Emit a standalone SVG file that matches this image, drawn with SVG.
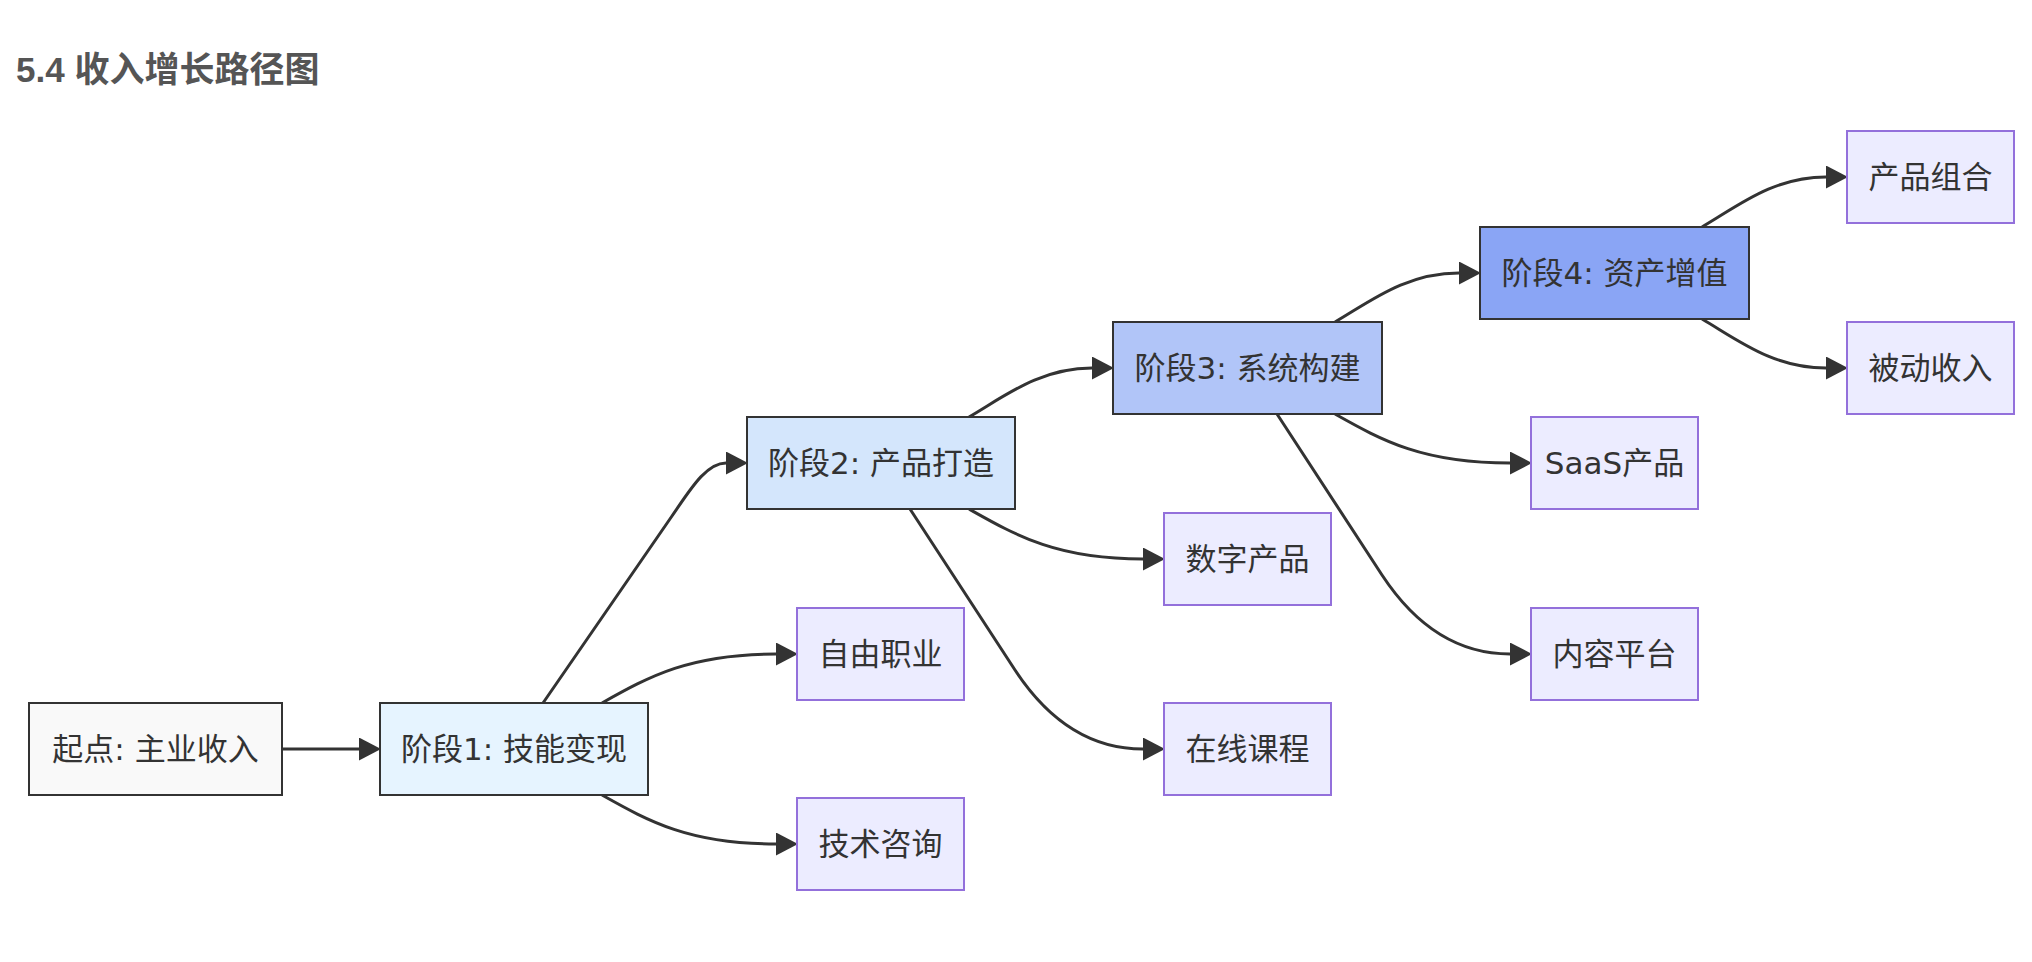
<svg xmlns="http://www.w3.org/2000/svg" width="2032" height="962" viewBox="0 0 2032 962">
<style>
  .title { font-family: "Liberation Sans", "Noto Sans CJK SC", sans-serif; font-size: 35px; font-weight: bold; fill: #555555; }
  .lbl { font-family: "DejaVu Sans", "Noto Sans CJK SC", sans-serif; font-size: 31px; fill: #333333; text-anchor: middle; }
  .start { fill: #f9f9f9; stroke: #333333; stroke-width: 2; }
  .s1 { fill: #e6f4ff; stroke: #333333; stroke-width: 2; }
  .s2 { fill: #d4e6fc; stroke: #333333; stroke-width: 2; }
  .s3 { fill: #b1c5f8; stroke: #333333; stroke-width: 2; }
  .s4 { fill: #8aa5f5; stroke: #333333; stroke-width: 2; }
  .leaf { fill: #ececff; stroke: #9370db; stroke-width: 2; }
  .edge { fill: none; stroke: #333333; stroke-width: 3; }
</style>
<defs>
  <marker id="arrow" markerUnits="userSpaceOnUse" markerWidth="24" markerHeight="24" refX="0" refY="11.5" orient="auto" viewBox="0 0 24 24">
    <path d="M0,0 L22,11.5 L0,23 z" fill="#333333"/>
  </marker>
</defs>
<rect width="2032" height="962" fill="#ffffff"/>
<text class="title" x="16" y="82">5.4 收入增长路径图</text>

<g id="connectors">
  <path class="edge" marker-end="url(#arrow)" d="M282,749 L359,749"/>
  <path class="edge" marker-end="url(#arrow)" d="M543,703 L672,516 C690,490 706,463 726,463"/>
  <path class="edge" marker-end="url(#arrow)" d="M602,703 C650,676 690,654 776,654"/>
  <path class="edge" marker-end="url(#arrow)" d="M602,795 C650,822 690,844 776,844"/>
  <path class="edge" marker-end="url(#arrow)" d="M969,417 C1005,396 1040,368 1092,368"/>
  <path class="edge" marker-end="url(#arrow)" d="M969,509 C1017,536 1057,559 1143,559"/>
  <path class="edge" marker-end="url(#arrow)" d="M910,509 L1015,670 C1040,708 1080,749 1143,749"/>
  <path class="edge" marker-end="url(#arrow)" d="M1335,322 C1371,301 1406,273 1459,273"/>
  <path class="edge" marker-end="url(#arrow)" d="M1335,414 C1383,441 1423,463 1510,463"/>
  <path class="edge" marker-end="url(#arrow)" d="M1277,414 L1382,575 C1407,613 1447,654 1510,654"/>
  <path class="edge" marker-end="url(#arrow)" d="M1702,227 C1738,206 1773,177 1826,177"/>
  <path class="edge" marker-end="url(#arrow)" d="M1702,319 C1738,340 1773,368 1826,368"/>
</g>

<g id="start">
  <rect class="start" x="29" y="703" width="253" height="92"/>
  <text class="lbl" x="155.5" y="760">起点: 主业收入</text>
</g>
<g id="stage1">
  <rect class="s1" x="380" y="703" width="268" height="92"/>
  <text class="lbl" x="514" y="760">阶段1: 技能变现</text>
</g>
<g id="freelance">
  <rect class="leaf" x="797" y="608" width="167" height="92"/>
  <text class="lbl" x="880.5" y="665">自由职业</text>
</g>
<g id="consulting">
  <rect class="leaf" x="797" y="798" width="167" height="92"/>
  <text class="lbl" x="880.5" y="855">技术咨询</text>
</g>
<g id="stage2">
  <rect class="s2" x="747" y="417" width="268" height="92"/>
  <text class="lbl" x="881" y="474">阶段2: 产品打造</text>
</g>
<g id="digital">
  <rect class="leaf" x="1164" y="513" width="167" height="92"/>
  <text class="lbl" x="1247.5" y="570">数字产品</text>
</g>
<g id="course">
  <rect class="leaf" x="1164" y="703" width="167" height="92"/>
  <text class="lbl" x="1247.5" y="760">在线课程</text>
</g>
<g id="stage3">
  <rect class="s3" x="1113" y="322" width="269" height="92"/>
  <text class="lbl" x="1247.5" y="379">阶段3: 系统构建</text>
</g>
<g id="saas">
  <rect class="leaf" x="1531" y="417" width="167" height="92"/>
  <text class="lbl" x="1614.5" y="474">SaaS产品</text>
</g>
<g id="platform">
  <rect class="leaf" x="1531" y="608" width="167" height="92"/>
  <text class="lbl" x="1614.5" y="665">内容平台</text>
</g>
<g id="stage4">
  <rect class="s4" x="1480" y="227" width="269" height="92"/>
  <text class="lbl" x="1614.5" y="284">阶段4: 资产增值</text>
</g>
<g id="portfolio">
  <rect class="leaf" x="1847" y="131" width="167" height="92"/>
  <text class="lbl" x="1930.5" y="188">产品组合</text>
</g>
<g id="passive">
  <rect class="leaf" x="1847" y="322" width="167" height="92"/>
  <text class="lbl" x="1930.5" y="379">被动收入</text>
</g>
</svg>
